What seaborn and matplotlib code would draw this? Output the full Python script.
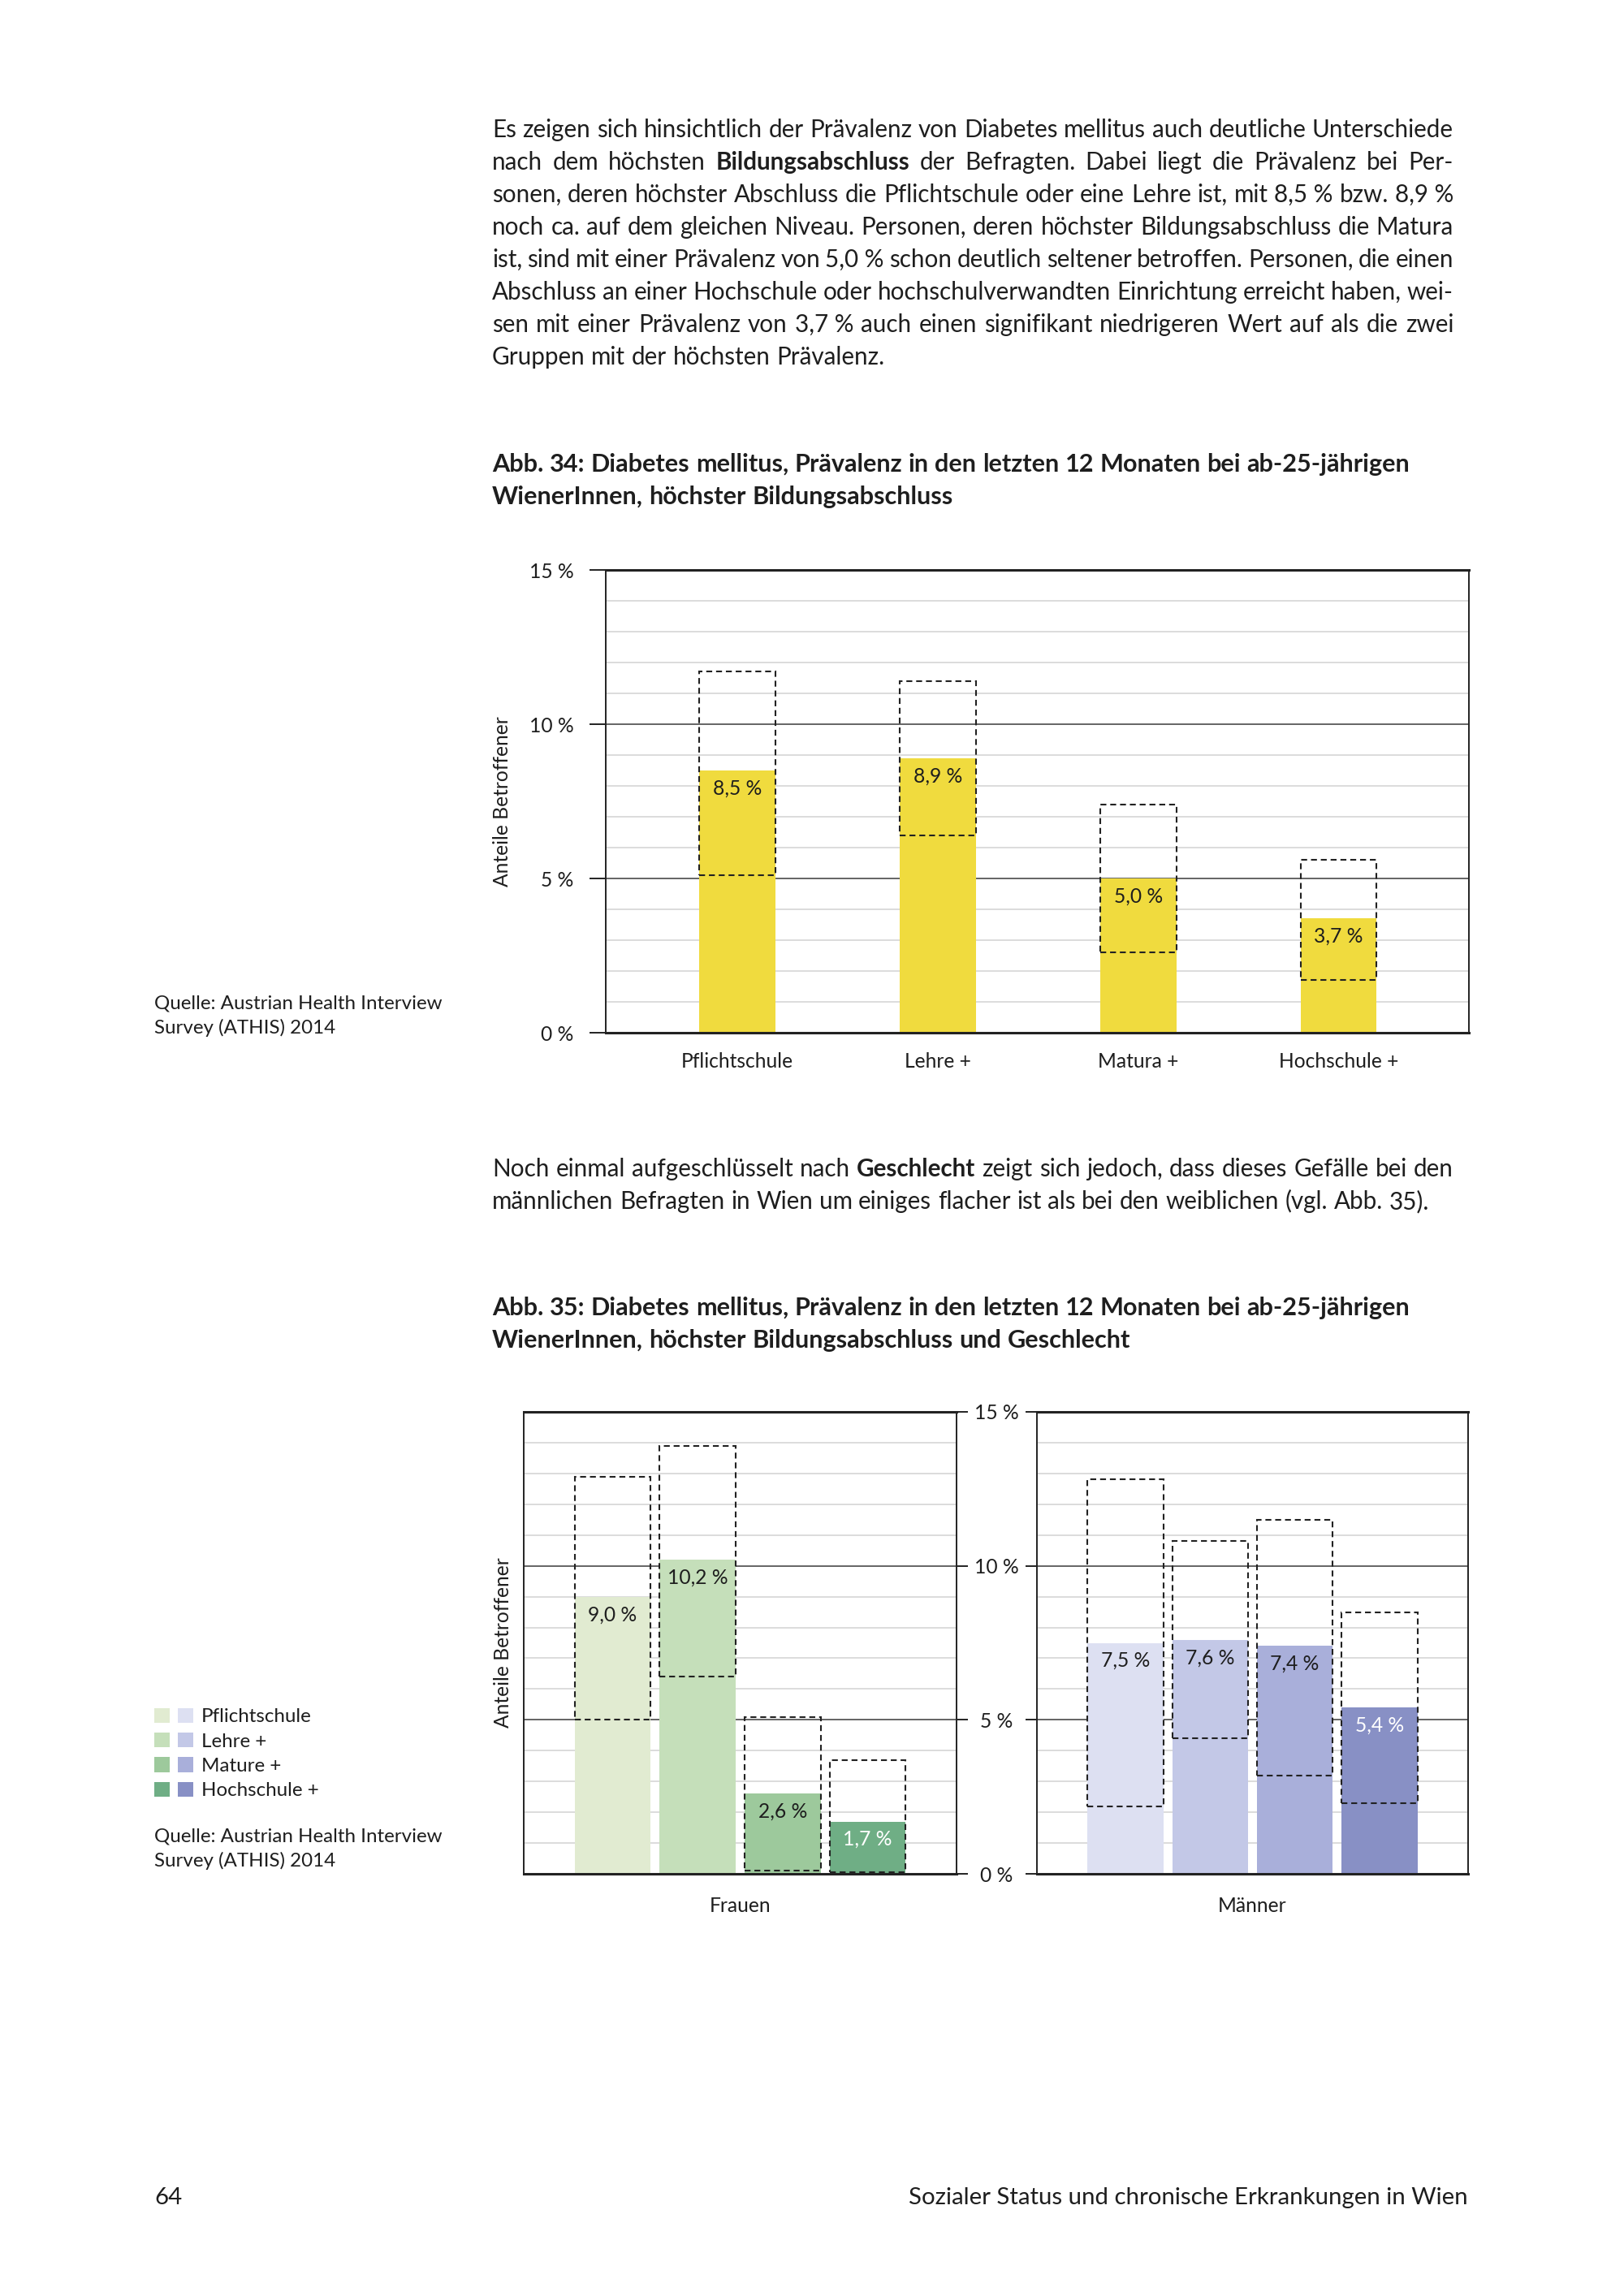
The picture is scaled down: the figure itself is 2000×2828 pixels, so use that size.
import matplotlib
matplotlib.use('Agg')
import matplotlib.pyplot as plt
import matplotlib.patches as mpatches
from matplotlib.legend_handler import HandlerTuple
import seaborn as sns
import numpy as np

# --- data -------------------------------------------------------------
edu = ['Pflichtschule', 'Lehre +', 'Matura +', 'Hochschule +']
edu_legend = ['Pflichtschule', 'Lehre +', 'Mature +', 'Hochschule +']

prev_total = [8.5, 8.9, 5.0, 3.7]
ci_low_total = [5.1, 6.4, 2.6, 1.7]
ci_high_total = [11.7, 11.4, 7.4, 5.6]

prev_frauen = [9.0, 10.2, 2.6, 1.7]
ci_low_frauen = [5.0, 6.4, 0.1, 0.05]
ci_high_frauen = [12.9, 13.9, 5.1, 3.7]

prev_maenner = [7.5, 7.6, 7.4, 5.4]
ci_low_maenner = [2.2, 4.4, 3.2, 2.3]
ci_high_maenner = [12.8, 10.8, 11.5, 8.5]

yticks = [0, 5, 10, 15]
ytick_labels = ['0 %', '5 %', '10 %', '15 %']

yellow = '#F0DB3E'
greens = ['#E1EBD1', '#C5DFBA', '#9DC99C', '#6FAE85']
blues = ['#DDE0F2', '#C3C8E7', '#A9AFDA', '#8890C5']
TXT = '#1e1e1e'

para1 = [
    "Es zeigen sich hinsichtlich der Prävalenz von Diabetes mellitus auch deutliche Unterschiede",
    "nach dem höchsten *Bildungsabschluss* der Befragten. Dabei liegt die Prävalenz bei Per-",
    "sonen, deren höchster Abschluss die Pflichtschule oder eine Lehre ist, mit 8,5\u00a0% bzw. 8,9\u00a0%",
    "noch ca. auf dem gleichen Niveau. Personen, deren höchster Bildungsabschluss die Matura",
    "ist, sind mit einer Prävalenz von 5,0\u00a0% schon deutlich seltener betroffen. Personen, die einen",
    "Abschluss an einer Hochschule oder hochschulverwandten Einrichtung erreicht haben, wei-",
    "sen mit einer Prävalenz von 3,7\u00a0% auch einen signifikant niedrigeren Wert auf als die zwei",
    "Gruppen mit der höchsten Prävalenz.",
]
title1 = ["Abb. 34: Diabetes mellitus, Prävalenz in den letzten 12 Monaten bei ab-25-jährigen",
          "WienerInnen, höchster Bildungsabschluss"]
para2 = [
    "Noch einmal aufgeschlüsselt nach *Geschlecht* zeigt sich jedoch, dass dieses Gefälle bei den",
    "männlichen Befragten in Wien um einiges flacher ist als bei den weiblichen (vgl. Abb. 35).",
]
title2 = ["Abb. 35: Diabetes mellitus, Prävalenz in den letzten 12 Monaten bei ab-25-jährigen",
          "WienerInnen, höchster Bildungsabschluss und Geschlecht"]
quelle = ["Quelle: Austrian Health Interview", "Survey (ATHIS) 2014"]

# --- setup ------------------------------------------------------------
sns.set_theme(style='white')
plt.rcParams['font.family'] = ['Lato', 'DejaVu Sans']

W, H = 2000, 2828
fig = plt.figure(figsize=(20, 28.28), dpi=100)
fig.patch.set_facecolor('white')
renderer = fig.canvas.get_renderer()
FS = 17.7  # chart text size


def px(x, y):
    return x / W, 1 - y / H


def fmt(v):
    return f"{v:.1f}".replace('.', ',') + '\u00a0%'


def text_line(y, line, x0, x1=None, size=21.3, weight='normal', color=TXT):
    items = []
    for w in line.split(' '):
        bold = len(w) > 2 and w.startswith('*') and w.endswith('*')
        s = w.strip('*') if bold else w
        t = fig.text(0, 0, s, fontsize=size, color=color, va='baseline', ha='left',
                     fontweight='bold' if (bold or weight == 'bold') else 'normal')
        items.append(t)
    widths = [t.get_window_extent(renderer).width for t in items]
    if x1 is None or len(items) < 2:
        a = fig.text(0, 0, 'a a', fontsize=size, fontweight=weight)
        b = fig.text(0, 0, 'aa', fontsize=size, fontweight=weight)
        gap = a.get_window_extent(renderer).width - b.get_window_extent(renderer).width
        a.remove()
        b.remove()
    else:
        gap = (x1 - x0 - sum(widths)) / (len(items) - 1)
    x = x0
    for t, wd in zip(items, widths):
        t.set_position(px(x, y))
        x += wd + gap


def style_axis(ax):
    ax.set_ylim(0, 15)
    ax.set_yticks(yticks)
    ax.set_yticks([v for v in range(1, 15) if v % 5], minor=True)
    ax.set_axisbelow(True)
    ax.yaxis.grid(True, which='minor', color='#dcdcdc', linewidth=1.4)
    ax.yaxis.grid(True, which='major', color='#3a3a3a', linewidth=1.1)
    ax.xaxis.grid(False)
    for side in ['top', 'bottom']:
        ax.spines[side].set_linewidth(2.2)
        ax.spines[side].set_color('#222222')
    for side in ['left', 'right']:
        ax.spines[side].set_linewidth(1.4)
        ax.spines[side].set_color('#222222')
    ax.tick_params(axis='y', which='minor', length=0)
    ax.set_ylabel('')


def ci_boxes(ax, lo, hi, width):
    lo = np.array(lo)
    hi = np.array(hi)
    ax.bar(np.arange(len(lo)), hi - lo, bottom=lo, width=width, fill=False,
           edgecolor='#222222', linewidth=1.5, linestyle=(0, (3.5, 2.3)), zorder=4)


def bar_labels(ax, vals, colors):
    for i, (v, c) in enumerate(zip(vals, colors)):
        ax.annotate(fmt(v), (i, v), xytext=(0, -22), textcoords='offset pixels',
                    ha='center', va='center', fontsize=FS, color=c, zorder=5)


# --- text blocks ------------------------------------------------------
X0, X1 = 606, 1790
for i, line in enumerate(para1):
    text_line(169 + 40 * i, line, X0, X1 if i < len(para1) - 1 else None)
for i, line in enumerate(title1):
    text_line(581 + 40 * i, line, X0, size=22.1, weight='bold')
for i, line in enumerate(para2):
    text_line(1449 + 40 * i, line, X0, X1 if i == 0 else None)
for i, line in enumerate(title2):
    text_line(1620 + 40 * i, line, X0, size=22.1, weight='bold')

for y0 in [1242, 2268]:
    for i, line in enumerate(quelle):
        fig.text(*px(190, y0 + 31 * i), line, fontsize=17.4, color=TXT, va='baseline')

fig.text(*px(190, 2715), '64', fontsize=21.2, color=TXT, va='baseline')
fig.text(*px(1808, 2715), 'Sozialer Status und chronische Erkrankungen in Wien',
         fontsize=21.2, color=TXT, va='baseline', ha='right')

# --- chart 1 ----------------------------------------------------------
ax1 = fig.add_axes([746 / W, 1 - 1272 / H, 1063 / W, 570 / H])
sns.barplot(x=edu, y=prev_total, color=yellow, saturation=1, width=0.38,
            linewidth=0, ax=ax1)
style_axis(ax1)
ci_boxes(ax1, ci_low_total, ci_high_total, 0.38)
bar_labels(ax1, prev_total, [TXT] * 4)
ax1.set_xlim(-0.656, 3.65)
ax1.set_yticks(yticks, ytick_labels)
ax1.tick_params(axis='y', which='major', left=True, length=14.4, width=1.4,
                color='#222222', pad=14, labelsize=FS, labelcolor=TXT)
ax1.tick_params(axis='x', length=0, pad=17, labelsize=FS, labelcolor=TXT)
ax1.set_ylabel('Anteile Betroffener', fontsize=FS, color=TXT)
ax1.yaxis.set_label_coords(-0.109, 0.5)

# --- chart 2 ----------------------------------------------------------
ax_f = fig.add_axes([645 / W, 1 - 2308 / H, 533 / W, 569 / H])
ax_m = fig.add_axes([1277 / W, 1 - 2308 / H, 531 / W, 569 / H])

sns.barplot(x=edu, y=prev_frauen, hue=edu, palette=greens, saturation=1,
            width=0.895, linewidth=0, legend=False, ax=ax_f)
sns.barplot(x=edu, y=prev_maenner, hue=edu, palette=blues, saturation=1,
            width=0.895, linewidth=0, legend=False, ax=ax_m)

for ax, lo, hi, vals in [(ax_f, ci_low_frauen, ci_high_frauen, prev_frauen),
                         (ax_m, ci_low_maenner, ci_high_maenner, prev_maenner)]:
    style_axis(ax)
    ci_boxes(ax, lo, hi, 0.895)
    bar_labels(ax, vals, [TXT, TXT, TXT, 'white'])
    ax.set_xlim(-1.045, 4.045)
    ax.set_xticks([])

ax_f.set_yticks(yticks, ytick_labels)
ax_f.yaxis.tick_right()
ax_f.tick_params(axis='y', which='major', right=True, left=False, labelright=False,
                 length=10, width=1.4, color='#222222')
ax_f.set_xlabel('Frauen', fontsize=FS, color=TXT, labelpad=20)
ax_f.set_ylabel('Anteile Betroffener', fontsize=FS, color=TXT)
ax_f.yaxis.set_label_coords(-0.026, 0.5)

ax_m.set_yticks(yticks, ytick_labels)
ax_m.tick_params(axis='y', which='major', left=True, length=10, width=1.4,
                 color='#222222', pad=26, labelsize=FS, labelcolor=TXT)
for t in ax_m.get_yticklabels():
    t.set_horizontalalignment('center')
ax_m.set_xlabel('Männer', fontsize=FS, color=TXT, labelpad=20)

# --- legend -----------------------------------------------------------
handles = [(mpatches.Patch(facecolor=g, edgecolor='none'),
            mpatches.Patch(facecolor=b, edgecolor='none')) for g, b in zip(greens, blues)]
fig.legend(handles=handles, labels=edu_legend,
           handler_map={tuple: HandlerTuple(ndivide=None, pad=0.41)},
           loc='upper left', bbox_to_anchor=px(190, 2104), frameon=False,
           fontsize=17.4, handlelength=1.98, handleheight=0.78, handletextpad=0.41,
           labelspacing=0.36, borderpad=0, borderaxespad=0, labelcolor=TXT)

fig.savefig('out.png', dpi=100, facecolor='white')
